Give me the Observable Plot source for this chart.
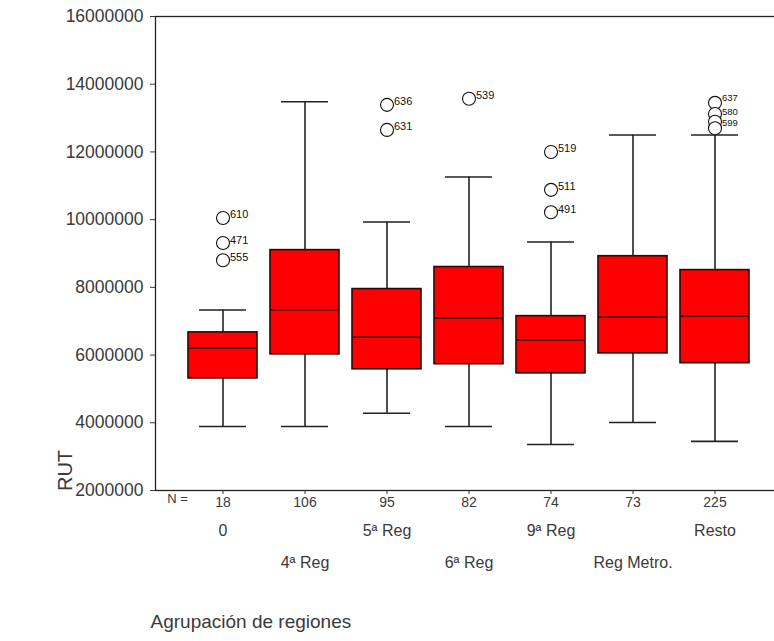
<!DOCTYPE html>
<html>
<head>
<meta charset="utf-8">
<script src="https://cdn.jsdelivr.net/npm/d3@7"></script>
<script src="https://cdn.jsdelivr.net/npm/@observablehq/plot@0.6"></script>
<style>
  html, body { margin: 0; padding: 0; background: #fff; }
  #chart svg { display: block; }
</style>
</head>
<body>
<div id="chart"></div>
<script>
// Region groups and their sample sizes
const categories = ["0", "4ª Reg", "5ª Reg", "6ª Reg", "9ª Reg", "Reg Metro.", "Resto"];
const counts = [18, 106, 95, 82, 74, 73, 225];

// Box-plot statistics of RUT per group
const whiskerLow = [3890000, 3890000, 4280000, 3890000, 3360000, 4010000, 3450000];
const q1 = [5310000, 6020000, 5580000, 5730000, 5460000, 6050000, 5760000];
const median = [6200000, 7330000, 6530000, 7090000, 6440000, 7120000, 7150000];
const q3 = [6670000, 9100000, 7950000, 8600000, 7150000, 8920000, 8510000];
const whiskerHigh = [7330000, 13480000, 9930000, 11260000, 9340000, 12500000, 12500000];

// Outlying cases (group, value, case number)
const outlierGroup = ["0", "0", "0", "5ª Reg", "5ª Reg", "6ª Reg", "9ª Reg", "9ª Reg", "9ª Reg", "Resto", "Resto", "Resto", "Resto"];
const outlierValue = [10050000, 9310000, 8800000, 13390000, 12650000, 13570000, 12000000, 10880000, 10220000, 13450000, 13120000, 12890000, 12700000];
const outlierCase = ["610", "471", "555", "636", "631", "539", "519", "511", "491", "637", "580", "599", ""];

// Y axis ticks
const yTicks = [2000000, 4000000, 6000000, 8000000, 10000000, 12000000, 14000000, 16000000];

const stats = categories.map((group, i) => ({
  group, n: counts[i], lo: whiskerLow[i], q1: q1[i], median: median[i], q3: q3[i], hi: whiskerHigh[i]
}));
const outliers = outlierGroup.map((group, i) => ({group, value: outlierValue[i], id: outlierCase[i]}));
const nByGroup = new Map(categories.map((c, i) => [c, counts[i]]));
const row1 = categories.filter((c, i) => i % 2 === 0);
const row2 = categories.filter((c, i) => i % 2 === 1);

// the tightly stacked cases of the last group get their own small offsets
const crowded = outliers.filter((d) => d.group === "Resto");
const spaced = outliers.filter((d) => d.group !== "Resto");
const crowdedShift = [-5, -2, 1];

const ink = "#222";
const textInk = "#3a3a3a";

const chart = Plot.plot({
  width: 774,
  height: 641,
  marginLeft: 155,
  marginRight: -2,
  marginTop: 16,
  marginBottom: 151,
  style: {fontFamily: "'Liberation Sans', Arial, sans-serif", fontSize: "14px", color: textInk, background: "#fff"},
  x: {
    type: "band",
    domain: categories,
    range: [186.5, 750.5],
    paddingInner: 0.164,
    paddingOuter: 0,
    tickSize: 4,
    tickPadding: 3,
    tickFormat: (d) => String(nByGroup.get(d)),
    label: null
  },
  y: {
    domain: [2000000, 16000000],
    ticks: yTicks,
    tickSize: 5,
    tickPadding: 7,
    tickFormat: d3.format("d"),
    label: null
  },
  marks: [
    Plot.frame({stroke: ink, strokeWidth: 1.3}),
    // whiskers
    Plot.ruleX(stats, {x: "group", y1: "lo", y2: "hi", stroke: ink, strokeWidth: 1.6}),
    Plot.tickY(stats, {x: "group", y: "lo", stroke: ink, strokeWidth: 1.6, insetLeft: 11, insetRight: 11}),
    Plot.tickY(stats, {x: "group", y: "hi", stroke: ink, strokeWidth: 1.6, insetLeft: 11, insetRight: 11}),
    // boxes
    Plot.barY(stats, {x: "group", y1: "q1", y2: "q3", fill: "#ff0000", stroke: "#2e0606", strokeWidth: 1.6}),
    Plot.tickY(stats, {x: "group", y: "median", stroke: "#4a0808", strokeWidth: 1.6}),
    // outliers
    Plot.dot(outliers, {x: "group", y: "value", r: 6.5, stroke: "#111", strokeWidth: 1.1, fill: "#fff"}),
    Plot.text(spaced, {x: "group", y: "value", text: "id", dx: 7, dy: -3, textAnchor: "start", fontSize: 11, fill: "#111"}),
    ...crowded.slice(0, 3).map((d, i) =>
      Plot.text([d], {x: "group", y: "value", text: "id", dx: 7, dy: crowdedShift[i], textAnchor: "start", fontSize: 9.5, fill: "#111"})
    ),
    // N = row marker
    Plot.text(["N ="], {frameAnchor: "bottom-left", textAnchor: "middle", dx: 22, dy: 12, fontSize: 13, fill: textInk}),
    // group names on two staggered rows
    Plot.text(row1, {x: (d) => d, frameAnchor: "bottom", dy: 45, fontSize: 16, fill: textInk}),
    Plot.text(row2, {x: (d) => d, frameAnchor: "bottom", dy: 77, fontSize: 16, fill: textInk}),
    // axis titles
    Plot.text(["Agrupación de regiones"], {frameAnchor: "bottom-left", dx: -5, dy: 137, textAnchor: "start", fontSize: 19, fill: textInk}),
    Plot.text(["RUT"], {frameAnchor: "bottom-left", textAnchor: "middle", dx: -84, dy: -20, rotate: -90, fontSize: 20, fill: textInk})
  ]
});

// larger tick labels on the value axis
chart.querySelectorAll('[aria-label^="y-axis"] text').forEach((t) => t.setAttribute("font-size", "17.5"));

document.getElementById("chart").appendChild(chart);
</script>
</body>
</html>
